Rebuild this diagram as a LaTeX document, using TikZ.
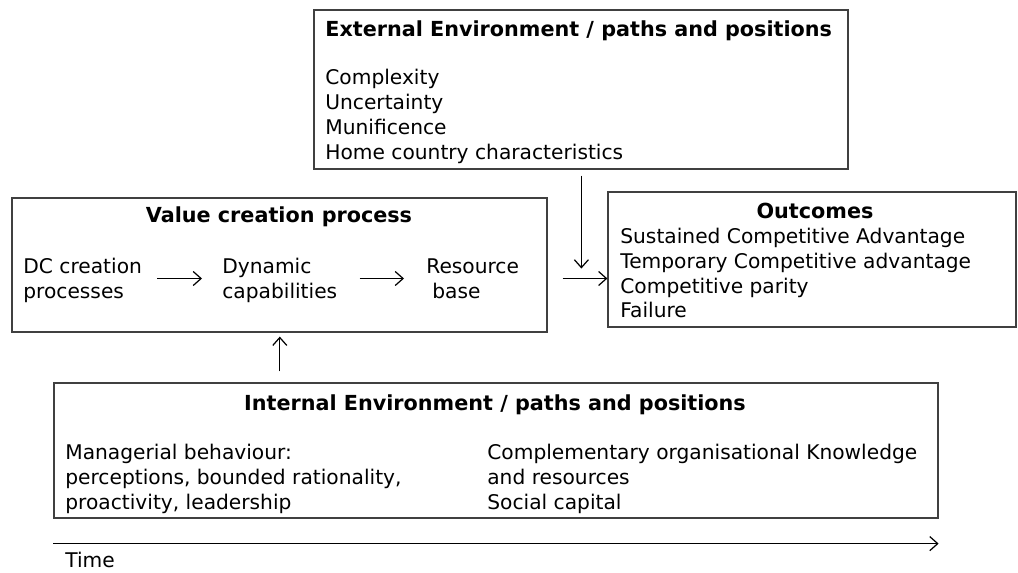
\documentclass[tikz,border=0pt]{standalone}
\usepackage{fontspec}
\setmainfont{DejaVu Sans}
\usetikzlibrary{positioning,calc,fit,arrows.meta}

\tikzset{
  panel/.style={draw=black!75, line width=0.7pt, inner sep=0pt},
  txt/.style={anchor=west, inner sep=0pt, align=left, font=\fontsize{11.5}{14.2}\selectfont},
  ttl/.style={inner sep=0pt, font=\fontsize{11.8}{14.2}\selectfont\bfseries},
  flow/.style={-{Straight Barb[length=4.5pt, width=8pt]}, line width=0.7pt},
}

\begin{document}
\begin{tikzpicture}[x=0.02cm, y=-0.02cm]
    \useasboundingbox (0,0) rectangle (1018,572);

    % External environment
    \node[panel, fit={(314,10) (848,169)}] (ext) {};
    \node[ttl, anchor=west] (exttitle) at (325,31) {External Environment / paths and positions};
    \node[txt] (extlist) at (325,116.5) {Complexity\\Uncertainty\\Munificence\\Home country characteristics};

    % Value creation process
    \node[panel, fit={(12,198) (547,332)}] (vcp) {};
    \node[ttl] (vcptitle) at (279,217) {Value creation process};
    \node[txt] (dc) at (23,280.5) {DC creation\\processes};
    \node[txt] (dyn) at (222,280.5) {Dynamic\\capabilities};
    \node[txt] (res) at (426,278.5) {Resource\\\hspace*{0.3em}base};

    % Outcomes
    \node[panel, fit={(608,192) (1016,327)}] (out) {};
    \node[ttl] (outtitle) at (815,211) {Outcomes};
    \node[txt] (outlist) at (620,273) {Sustained Competitive Advantage\\Temporary Competitive advantage\\Competitive parity\\Failure};

    % Internal environment
    \node[panel, fit={(54,383) (938,518)}] (int) {};
    \node[ttl] (inttitle) at (495,405) {Internal Environment / paths and positions};
    \node[txt] (mgr) at (65,478.5) {Managerial behaviour:\\perceptions, bounded rationality,\\proactivity, leadership};
    \node[txt] (comp) at (487,478.5) {Complementary organisational Knowledge\\and resources\\Social capital};

    % Connectors
    \draw[flow] ($(dc.east |- res)+(15,0)$) -- ($(dyn.west |- res)+(-20,0)$);
    \draw[flow] ($(dyn.east |- res)+(22,0)$) -- ($(res.west)+(-22,0)$);
    \draw[flow] ($(vcp.east |- res)+(15,0)$) -- (out.west |- res);
    \coordinate (extin) at ($(out.west |- res)+(-26,-10)$);
    \draw[flow] ($(ext.south -| extin)+(0,6)$) -- (extin);
    \draw[flow] ($(dyn.center |- int.north)+(0,-11)$) -- ($(dyn.center |- vcp.south)+(0,4)$);

    % Time axis
    \coordinate (t0) at ($(int.south west)+(0,25)$);
    \coordinate (t1) at ($(int.south east)+(0,25)$);
    \draw[flow] (t0) -- (t1);
    \node[txt] (time) at (65,560) {Time};
\end{tikzpicture}
\end{document}
